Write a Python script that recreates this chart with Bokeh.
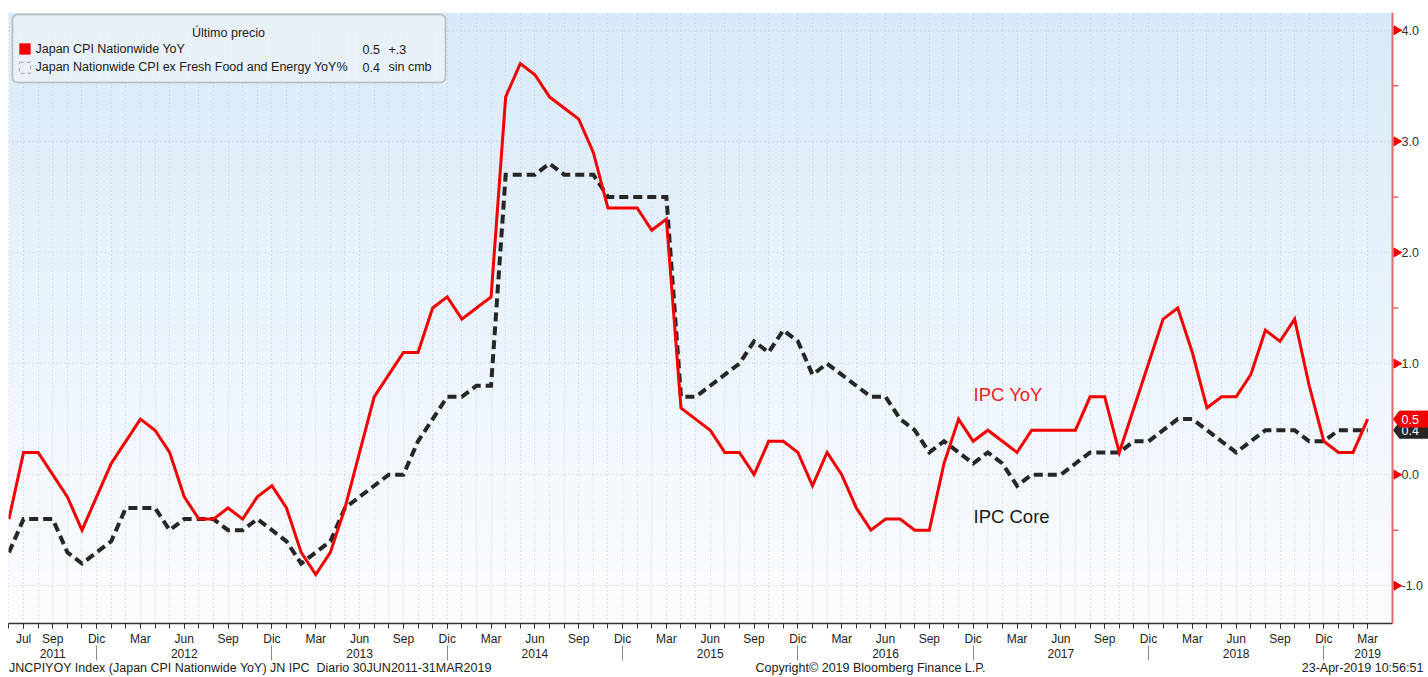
import numpy as np
from bokeh.plotting import figure
from bokeh.models import Range1d, LinearAxis, FixedTicker, Label, BoxAnnotation, Span
from bokeh.core.properties import value
from bokeh.embed import file_html
from bokeh.resources import INLINE

# ---------------- data (monthly, Jun 2011 .. Mar 2019) ----------------
months = [f"{y}-{m:02d}" for y in range(2011, 2020) for m in range(1, 13)
          if (y, m) >= (2011, 6) and (y, m) <= (2019, 3)]

cpi_yoy = [
    -0.4, 0.2, 0.2, 0.0, -0.2, -0.5, -0.2,                          # 2011 Jun-Dec
    0.1, 0.3, 0.5, 0.4, 0.2, -0.2, -0.4, -0.4, -0.3, -0.4, -0.2, -0.1,  # 2012
    -0.3, -0.7, -0.9, -0.7, -0.3, 0.2, 0.7, 0.9, 1.1, 1.1, 1.5, 1.6,    # 2013
    1.4, 1.5, 1.6, 3.4, 3.7, 3.6, 3.4, 3.3, 3.2, 2.9, 2.4, 2.4,         # 2014
    2.4, 2.2, 2.3, 0.6, 0.5, 0.4, 0.2, 0.2, 0.0, 0.3, 0.3, 0.2,         # 2015
    -0.1, 0.2, 0.0, -0.3, -0.5, -0.4, -0.4, -0.5, -0.5, 0.1, 0.5, 0.3,  # 2016
    0.4, 0.3, 0.2, 0.4, 0.4, 0.4, 0.4, 0.7, 0.7, 0.2, 0.6, 1.0,         # 2017
    1.4, 1.5, 1.1, 0.6, 0.7, 0.7, 0.9, 1.3, 1.2, 1.4, 0.8, 0.3,         # 2018
    0.2, 0.2, 0.5,                                                      # 2019
]

cpi_core = [
    -0.7, -0.4, -0.4, -0.4, -0.7, -0.8, -0.7,
    -0.6, -0.3, -0.3, -0.3, -0.5, -0.4, -0.4, -0.4, -0.5, -0.5, -0.4, -0.5,
    -0.6, -0.8, -0.7, -0.6, -0.3, -0.2, -0.1, 0.0, 0.0, 0.3, 0.5, 0.7,
    0.7, 0.8, 0.8, 2.7, 2.7, 2.7, 2.8, 2.7, 2.7, 2.7, 2.5, 2.5,
    2.5, 2.5, 2.5, 0.7, 0.7, 0.8, 0.9, 1.0, 1.2, 1.1, 1.3, 1.2,
    0.9, 1.0, 0.9, 0.8, 0.7, 0.7, 0.5, 0.4, 0.2, 0.3, 0.2, 0.1,
    0.2, 0.1, -0.1, 0.0, 0.0, 0.0, 0.1, 0.2, 0.2, 0.2, 0.3, 0.3,
    0.4, 0.5, 0.5, 0.4, 0.3, 0.2, 0.3, 0.4, 0.4, 0.4, 0.3, 0.3,
    0.4, 0.4, 0.4,
]

month_ticks = [1, 3, 6, 9, 12, 15, 18, 21, 24, 27, 30, 33, 36, 39, 42, 45,
               48, 51, 54, 57, 60, 63, 66, 69, 72, 75, 78, 81, 84, 87, 90, 93]
month_tick_labels = ["Jul", "Sep"] + ["Dic", "Mar", "Jun", "Sep"] * 7 + ["Dic", "Mar"]
year_ticks = [3, 12, 24, 36, 48, 60, 72, 84, 93]
year_labels = ["2011", "2012", "2013", "2014", "2015", "2016", "2017", "2018", "2019"]
year_separators = [6, 18, 30, 42, 54, 66, 78, 90]
y_ticks = [-1, 0, 1, 2, 3, 4]
y_tick_labels = ["-1.0", "0.0", "1.0", "2.0", "3.0", "4.0"]
y_minor_ticks = [-0.5, 0.5, 1.5, 2.5, 3.5]

legend_title = "Último precio"
series_names = ["Japan CPI Nationwide YoY", "Japan Nationwide CPI ex Fresh Food and Energy YoY%"]
last_values = ["0.5", "0.4"]
changes = ["+.3", "sin cmb"]
footer_texts = ["JNCPIYOY Index (Japan CPI Nationwide YoY) JN IPC\u00a0 Diario 30JUN2011-31MAR2019",
                "Copyright\u00a9 2019 Bloomberg Finance L.P.",
                "23-Apr-2019 10:56:51"]

# ---------------- layout ----------------
W, H = 1428, 677
LEFT, TOP, BOTTOM = 8, 12, 53
FRAME_W = W - LEFT
FRAME_H = H - TOP - BOTTOM
PX_PER_MONTH = 14.61
X0 = -0.03
X1 = X0 + FRAME_W / PX_PER_MONTH
Y0, Y1 = -1.34, 4.16

def xv(px):  # canvas pixel -> data x
    return X0 + (px - LEFT) / PX_PER_MONTH

def yv(py):  # canvas pixel -> data y
    return Y1 - (py - TOP) / FRAME_H * (Y1 - Y0)

def dy(pix):
    return pix / FRAME_H * (Y1 - Y0)

XA = xv(1392)  # position of the value axis

FONT = "Liberation Sans"
RED = "#f20000"
AXIS_RED = "#e06a6a"
DARK = "#262626"

p = figure(width=W, height=H, x_range=Range1d(X0, X1), y_range=Range1d(Y0, Y1),
           output_backend="svg", toolbar_location=None, y_axis_location=None,
           min_border_left=LEFT, min_border_right=0, min_border_top=TOP,
           min_border_bottom=BOTTOM, border_fill_color="white",
           background_fill_color="white", outline_line_color=None)

# background gradient (light blue at top to white at bottom)
n = 256
t = np.linspace(0, 1, n)  # 0 bottom, 1 top
top_c = np.array([216, 234, 249])
bot_c = np.array([252, 253, 255])
rgb = (bot_c[None, :] + (top_c - bot_c)[None, :] * t[:, None]).astype(np.uint8)
img = np.empty((n, 1), dtype=np.uint32)
view = img.view(dtype=np.uint8).reshape((n, 1, 4))
view[:, 0, 0] = rgb[:, 0]
view[:, 0, 1] = rgb[:, 1]
view[:, 0, 2] = rgb[:, 2]
view[:, 0, 3] = 255
p.image_rgba(image=[img], x=X0, y=Y0, dw=XA - X0, dh=Y1 - Y0, level="image")

# grids
p.xgrid.ticker = FixedTicker(ticks=list(range(len(months))))
p.ygrid.ticker = FixedTicker(ticks=y_ticks)
for g in (p.xgrid, p.ygrid):
    g.grid_line_color = "#c3c8ce"
    g.grid_line_dash = "1 3"
    g.grid_line_width = 1

# white strip for the value axis area
p.quad(left=[XA], right=[X1], bottom=[Y0], top=[Y1], fill_color="white", line_color=None)

# series
x = list(range(len(months)))
p.line(x, cpi_core, color=DARK, line_width=4, line_dash="9 5", line_join="miter")
p.line(x, cpi_yoy, color=RED, line_width=3, line_join="miter")

# ---- value axis on the right (drawn inside the canvas frame) ----
p.add_layout(Span(location=XA, dimension="height", line_color=AXIS_RED, line_width=2))
p.scatter(x=[xv(1396)] * len(y_ticks), y=y_ticks, marker="triangle", size=9,
          angle=-np.pi / 2, fill_color=RED, line_color=RED)
p.segment(x0=[XA] * len(y_minor_ticks), x1=[xv(1398)] * len(y_minor_ticks),
          y0=y_minor_ticks, y1=y_minor_ticks, line_color=AXIS_RED, line_width=1.5)
p.text(x=[xv(1401)] * len(y_ticks), y=y_ticks, text=y_tick_labels, text_baseline="middle",
       text_align="left", text_font=value(FONT), text_font_size="12.5px", text_color="#333333")

# last value tags
for val, col in ((cpi_core[-1], DARK), (cpi_yoy[-1], RED)):
    h = dy(8)
    p.patch(x=[xv(1393), xv(1399), X1, X1, xv(1399)],
            y=[val, val + h, val + h, val - h, val - h],
            fill_color=col, line_color=col)
    p.text(x=[xv(1401)], y=[val], text=[f"{val:.1f}"], text_baseline="middle",
           text_align="left", text_font=value(FONT), text_font_size="12.5px",
           text_color="white")

# ---- bottom month axis ----
xa = p.xaxis[0]
xa.bounds = (X0, XA)
xa.ticker = FixedTicker(ticks=month_ticks, minor_ticks=list(range(len(months))))
xa.major_label_overrides = {t: l for t, l in zip(month_ticks, month_tick_labels)}
xa.axis_line_color = "#333333"
xa.axis_line_width = 1.5
xa.major_tick_in = 0
xa.major_tick_out = 5
xa.minor_tick_in = 0
xa.minor_tick_out = 5
xa.major_tick_line_color = "#333333"
xa.minor_tick_line_color = "#333333"
xa.major_label_standoff = 3
xa.major_label_text_font = FONT
xa.major_label_text_font_size = "12px"
xa.major_label_text_color = "#222222"

# ---- year axis ----
ya2 = LinearAxis(ticker=FixedTicker(ticks=year_ticks),
                 major_label_overrides={t: l for t, l in zip(year_ticks, year_labels)})
ya2.axis_line_color = None
ya2.major_tick_line_color = None
ya2.minor_tick_line_color = None
ya2.major_tick_out = 0
ya2.major_tick_in = 0
ya2.minor_tick_in = 0
ya2.minor_tick_out = 0
ya2.major_label_standoff = 0
ya2.major_label_text_font = FONT
ya2.major_label_text_font_size = "12px"
ya2.major_label_text_color = "#222222"
p.add_layout(ya2, "below")

# ---- footer axis (source line, copyright, timestamp) + year separators ----
footer_ticks = [round(xv(250), 2), round(xv(870), 2), round(xv(1362), 2)]
fa = LinearAxis(ticker=FixedTicker(ticks=footer_ticks, minor_ticks=year_separators),
                major_label_overrides={t: l for t, l in zip(footer_ticks, footer_texts)})
fa.axis_line_color = None
fa.major_tick_line_color = None
fa.major_tick_out = 0
fa.major_tick_in = 0
fa.minor_tick_out = 0
fa.minor_tick_in = 15
fa.minor_tick_line_color = "#8a8a8a"
fa.minor_tick_line_width = 1
fa.major_label_standoff = 0
fa.major_label_text_font = FONT
fa.major_label_text_font_size = "12.5px"
fa.major_label_text_color = "#222222"
p.add_layout(fa, "below")

# ---- legend box ----
p.add_layout(BoxAnnotation(left=xv(12), right=xv(445), top=yv(14), bottom=yv(82),
                           fill_color="#eef2f6", fill_alpha=0.75, line_color="#4a4a4a",
                           line_width=1.5, border_radius=5))
p.add_layout(Label(x=xv(228), y=yv(33), text=legend_title, text_align="center",
                   text_baseline="middle", text_font=FONT, text_font_size="12.5px",
                   text_color="#222222"))
row_y = [49, 67]
p.add_layout(BoxAnnotation(left=xv(19), right=xv(30), top=yv(43), bottom=yv(54),
                           fill_color=RED, fill_alpha=1, line_color=RED))
p.add_layout(BoxAnnotation(left=xv(19), right=xv(30), top=yv(62), bottom=yv(73),
                           fill_color=None, line_color="#333333", line_width=1.2,
                           line_dash="4 3"))
for i in range(2):
    for txt, px in ((series_names[i], 35), (last_values[i], 362), (changes[i], 388)):
        p.add_layout(Label(x=xv(px), y=yv(row_y[i]), text=txt, text_align="left",
                           text_baseline="middle", text_font=FONT,
                           text_font_size="12.5px", text_color="#1a1a1a"))

# ---- inline annotations ----
p.add_layout(Label(x=xv(973), y=yv(395), text="IPC YoY", text_color="#ee1c25",
                   text_baseline="middle", text_font=FONT, text_font_size="18.5px"))
p.add_layout(Label(x=xv(973), y=yv(517), text="IPC Core", text_color="#1a1a1a",
                   text_baseline="middle", text_font=FONT, text_font_size="18.5px"))

open("out.html", "w").write(file_html(p, INLINE))
